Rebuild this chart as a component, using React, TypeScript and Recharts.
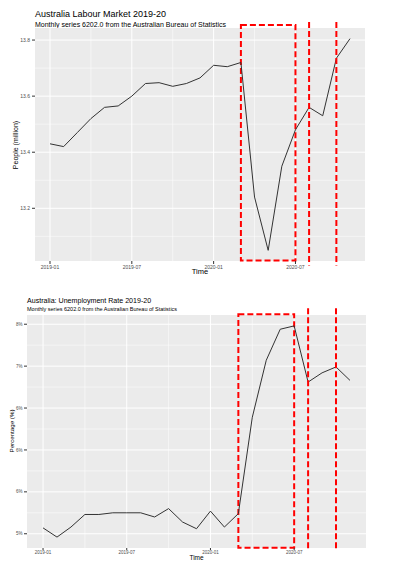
import React from "react";
import {
  LineChart,
  Line,
  XAxis,
  YAxis,
  CartesianGrid,
  ReferenceArea,
  ReferenceLine,
} from "recharts";

// monthly categories, 2019-01 .. 2020-11
const MONTHS = [
  "2019-01", "2019-02", "2019-03", "2019-04", "2019-05", "2019-06",
  "2019-07", "2019-08", "2019-09", "2019-10", "2019-11", "2019-12",
  "2020-01", "2020-02", "2020-03", "2020-04", "2020-05", "2020-06",
  "2020-07", "2020-08", "2020-09", "2020-10", "2020-11",
];

// employed persons, million
const EMPLOYED = [
  13.43, 13.42, 13.47, 13.52, 13.56, 13.565, 13.6, 13.645, 13.648, 13.635,
  13.645, 13.665, 13.71, 13.705, 13.72, 13.24, 13.05, 13.35, 13.48, 13.56,
  13.53, 13.735, 13.805,
];

// unemployment rate, %
const UNEMPLOYMENT = [
  5.07, 4.96, 5.08, 5.23, 5.23, 5.25, 5.25, 5.25, 5.2, 5.3, 5.14, 5.06, 5.27,
  5.08, 5.24, 6.39, 7.07, 7.44, 7.48, 6.81, 6.92, 6.99, 6.83,
];

const X_TICKS = [0, 6, 12, 18];
const X_MINOR = [3, 9, 15, 21];

const EMP_TICKS = [13.2, 13.4, 13.6, 13.8];
const EMP_MINOR = [13.1, 13.3, 13.5, 13.7];

const UNEMP_TICKS = [5, 5.5, 6, 6.5, 7, 7.5];
const UNEMP_TICK_LABELS = ["5%", "6%", "6%", "6%", "7%", "8%"];
const UNEMP_MINOR = [5.25, 5.75, 6.25, 6.75, 7.25];

// highlighted periods (month index)
const BOX_START = 14;
const BOX_END = 18;
const MARK_LINES = [19, 21];

const FONT = '"Liberation Sans", Arial, Helvetica, sans-serif';
const RED = "#FF0000";
const DASH = "6 3";

const empData = MONTHS.map((m, i) => ({ i, month: m, value: EMPLOYED[i] }));
const unempData = MONTHS.map((m, i) => ({ i, month: m, value: UNEMPLOYMENT[i] }));

const abs = (style: React.CSSProperties): React.CSSProperties => ({
  position: "absolute",
  whiteSpace: "nowrap",
  lineHeight: 1,
  color: "#000",
  ...style,
});

export default function App() {
  return (
    <div
      style={{
        position: "absolute",
        left: 0,
        top: 0,
        width: 393,
        height: 570,
        background: "#fff",
        fontFamily: FONT,
      }}
    >
      {/* top chart */}
      <div style={abs({ left: 35, top: 10, fontSize: 9 })}>
        Australia Labour Market 2019-20
      </div>
      <div style={abs({ left: 35, top: 20.6, fontSize: 7 })}>
        Monthly series 6202.0 from the Australian Bureau of Statistics
      </div>
      <div
        style={abs({
          left: 14.5,
          top: 144.5,
          fontSize: 7,
          transform: "translate(-50%, -50%) rotate(-90deg)",
        })}
      >
        People (million)
      </div>
      <div style={abs({ left: 200, top: 268, fontSize: 7.5, transform: "translateX(-50%)" })}>
        Time
      </div>
      <div style={{ position: "absolute", left: 0, top: 0 }}>
        <LineChart
          width={393}
          height={290}
          data={empData}
          margin={{ top: 28, right: 28, left: 0, bottom: 0 }}
        >
          <CartesianGrid
            fill="#EBEBEB"
            stroke="#FFFFFF"
            strokeWidth={0.5}
            horizontalValues={EMP_MINOR}
            verticalValues={X_MINOR}
          />
          <CartesianGrid
            stroke="#FFFFFF"
            strokeWidth={1}
            horizontalValues={EMP_TICKS}
            verticalValues={X_TICKS}
          />
          <XAxis
            dataKey="i"
            type="number"
            domain={[-1.1, 23.1]}
            ticks={X_TICKS}
            interval={0}
            tickFormatter={(v: number) => MONTHS[v]}
            axisLine={false}
            tickLine={{ stroke: "#333333" }}
            tickSize={3}
            tickMargin={1}
            height={29}
            tick={{ fontSize: 5, fill: "#4D4D4D" }}
          />
          <YAxis
            type="number"
            domain={[13.012, 13.843]}
            ticks={EMP_TICKS}
            interval={0}
            tickFormatter={(v: number) => v.toFixed(1)}
            axisLine={false}
            tickLine={{ stroke: "#333333" }}
            tickSize={3}
            tickMargin={2}
            width={35}
            tick={{ fontSize: 5, fill: "#4D4D4D" }}
          />
          <Line
            type="linear"
            dataKey="value"
            stroke="#333333"
            strokeWidth={1}
            dot={false}
            isAnimationActive={false}
          />
          <ReferenceArea
            x1={BOX_START}
            x2={BOX_END}
            y1={13.014}
            y2={13.854}
            fill="none"
            stroke={RED}
            strokeWidth={2}
            strokeDasharray={DASH}
            ifOverflow="visible"
          />
          {MARK_LINES.map((x) => (
            <ReferenceLine
              key={`e-${x}`}
              segment={[
                { x, y: 13.864 },
                { x, y: 12.996 },
              ]}
              stroke={RED}
              strokeWidth={2}
              strokeDasharray={DASH}
              ifOverflow="visible"
            />
          ))}
        </LineChart>
      </div>

      {/* bottom chart */}
      <div style={abs({ left: 27, top: 297.6, fontSize: 7.1 })}>
        Australia: Unemployment Rate 2019-20
      </div>
      <div style={abs({ left: 27, top: 306.8, fontSize: 5.5 })}>
        Monthly series 6202.0 from the Australian Bureau of Statistics
      </div>
      <div
        style={abs({
          left: 12,
          top: 431,
          fontSize: 6.2,
          transform: "translate(-50%, -50%) rotate(-90deg)",
        })}
      >
        Percentage (%)
      </div>
      <div style={abs({ left: 196.5, top: 554.5, fontSize: 6.5, transform: "translateX(-50%)" })}>
        Time
      </div>
      <div style={{ position: "absolute", left: 0, top: 285 }}>
        <LineChart
          width={393}
          height={285}
          data={unempData}
          margin={{ top: 30, right: 27, left: 0, bottom: 0 }}
        >
          <CartesianGrid
            fill="#EBEBEB"
            stroke="#FFFFFF"
            strokeWidth={0.5}
            horizontalValues={UNEMP_MINOR}
            verticalValues={X_MINOR}
          />
          <CartesianGrid
            stroke="#FFFFFF"
            strokeWidth={1}
            horizontalValues={UNEMP_TICKS}
            verticalValues={X_TICKS}
          />
          <XAxis
            dataKey="i"
            type="number"
            domain={[-1.15, 23.15]}
            ticks={X_TICKS}
            interval={0}
            tickFormatter={(v: number) => MONTHS[v]}
            axisLine={false}
            tickLine={{ stroke: "#333333" }}
            tickSize={2}
            tickMargin={1}
            height={22}
            tick={{ fontSize: 4.5, fill: "#4D4D4D" }}
          />
          <YAxis
            type="number"
            domain={[4.83, 7.61]}
            ticks={UNEMP_TICKS}
            interval={0}
            tickFormatter={(v: number) => UNEMP_TICK_LABELS[UNEMP_TICKS.indexOf(v)]}
            axisLine={false}
            tickLine={{ stroke: "#333333" }}
            tickSize={3}
            tickMargin={1.5}
            width={27}
            tick={{ fontSize: 4.5, fill: "#4D4D4D" }}
          />
          <Line
            type="linear"
            dataKey="value"
            stroke="#333333"
            strokeWidth={1}
            dot={false}
            isAnimationActive={false}
          />
          <ReferenceArea
            x1={BOX_START}
            x2={BOX_END}
            y1={4.833}
            y2={7.62}
            fill="none"
            stroke={RED}
            strokeWidth={2}
            strokeDasharray={DASH}
            ifOverflow="visible"
          />
          {MARK_LINES.map((x) => (
            <ReferenceLine
              key={`u-${x}`}
              segment={[
                { x, y: 7.69 },
                { x, y: 4.81 },
              ]}
              stroke={RED}
              strokeWidth={2}
              strokeDasharray={DASH}
              ifOverflow="visible"
            />
          ))}
        </LineChart>
      </div>
    </div>
  );
}
